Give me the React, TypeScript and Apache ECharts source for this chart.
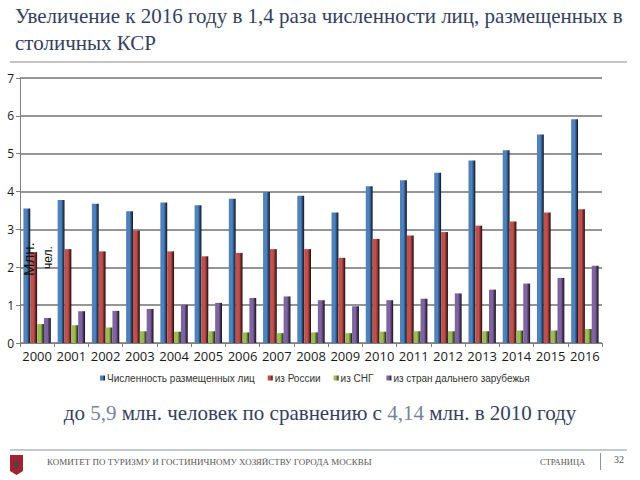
import React, { useEffect, useRef } from "react";
import * as echarts from "echarts";

const years = ["2000","2001","2002","2003","2004","2005","2006","2007","2008","2009","2010","2011","2012","2013","2014","2015","2016"];
const totalGuests = [3.55,3.78,3.68,3.48,3.71,3.64,3.81,3.99,3.89,3.45,4.14,4.30,4.50,4.82,5.09,5.51,5.91];
const fromRussia = [2.40,2.48,2.42,2.97,2.42,2.29,2.38,2.48,2.48,2.25,2.75,2.84,2.93,3.10,3.21,3.45,3.53];
const fromCIS = [0.50,0.47,0.41,0.31,0.30,0.31,0.28,0.26,0.28,0.26,0.30,0.31,0.31,0.31,0.33,0.33,0.37];
const fromFarAbroad = [0.66,0.84,0.85,0.90,1.01,1.06,1.19,1.23,1.13,0.97,1.13,1.17,1.31,1.41,1.57,1.72,2.04];
const seriesNames = ["Численность размещенных лиц","из России","из СНГ","из стран дальнего зарубежья"];
const seriesColors = ["#4F81BD","#C0504D","#9BBB59","#8064A2"];

function barColor(c: string) {
  return new echarts.graphic.LinearGradient(0, 0, 1, 0, [
    { offset: 0, color: c },
    { offset: 0.5, color: c },
    { offset: 1, color: echarts.color.modifyHSL(c, undefined, undefined, 0.08) as string },
  ]);
}

export default function App() {
  const ref = useRef<HTMLDivElement>(null);
  useEffect(() => {
    if (!ref.current) return;
    const chart = echarts.init(ref.current, undefined, { renderer: "svg" });
    const dataSets = [totalGuests, fromRussia, fromCIS, fromFarAbroad];
    const serif = "'Liberation Serif', 'Times New Roman', serif";
    const titleColor = "#34405E";
    chart.setOption({
      animation: false,
      backgroundColor: "#ffffff",
      grid: { left: 20, right: 38, top: 78, bottom: 137 },
      legend: {
        bottom: 92,
        left: 95,
        itemWidth: 5,
        itemHeight: 5,
        itemGap: 13,
        icon: "rect",
        textStyle: { fontSize: 10, color: "#333", fontFamily: "'Liberation Sans', Arial, sans-serif", padding: [0, 0, 0, -3] },
        data: seriesNames,
      },
      xAxis: {
        type: "category",
        data: years,
        axisLine: { lineStyle: { color: "#808080", width: 1 } },
        axisTick: { show: true, alignWithLabel: false, length: 4, lineStyle: { color: "#808080" } },
        axisLabel: { fontSize: 13, color: "#1a1a1a", fontFamily: "'Open Sans', sans-serif", fontWeight: 500, margin: 6, interval: 0 },
      },
      yAxis: {
        type: "value",
        min: 0,
        max: 7,
        interval: 1,
        axisLine: { show: true, lineStyle: { color: "#808080", width: 1 } },
        axisTick: { show: true, length: 4, lineStyle: { color: "#808080" } },
        axisLabel: { fontSize: 12, color: "#1a1a1a", fontFamily: "'Open Sans', sans-serif", fontWeight: 500, margin: 6 },
        splitLine: { lineStyle: { color: "#959595", width: 1.8 } },
      },
      series: dataSets.map((d, i) => ({
        name: seriesNames[i],
        type: "bar",
        data: d,
        barGap: "0%",
        barCategoryGap: "20%",
        itemStyle: { color: barColor(seriesColors[i]) },
      })),
      graphic: [
        { type: "text", left: 15, top: 5, style: { text: "Увеличение к 2016 году в 1,4 раза численности лиц, размещенных в", font: `21px ${serif}`, fill: titleColor } },
        { type: "text", left: 15, top: 32, style: { text: "столичных КСР", font: `21px ${serif}`, fill: titleColor } },
        { type: "rect", shape: { x: 10, y: 61, width: 617, height: 2 }, style: { fill: "#C4C4C4" } },
        { type: "text", z: 100, x: 21, y: 276, rotation: Math.PI / 2, style: { text: "Млн.", font: `15px 'Liberation Sans', Arial, sans-serif`, fill: "#111", verticalAlign: "top" } },
        { type: "text", z: 100, x: 42, y: 269, rotation: Math.PI / 2, style: { text: "чел.", font: `12px 'Liberation Sans', Arial, sans-serif`, fill: "#111", verticalAlign: "top" } },
        {
          type: "text", left: "center", top: 402,
          style: {
            rich: {
              a: { font: `21px ${serif}`, fill: titleColor },
              b: { font: `21px ${serif}`, fill: "#76839C" },
            },
            text: "{a|до }{b|5,9}{a| млн. человек по сравнению с }{b|4,14}{a| млн. в 2010 году}",
          },
        },
        { type: "rect", shape: { x: 10, y: 449, width: 617, height: 2 }, style: { fill: "#C4C8D0" } },
        { type: "polygon", shape: { points: [[10, 455], [23, 455], [23, 471], [16.5, 475], [10, 471]] }, style: { fill: "#A3222E" } },
        { type: "rect", shape: { x: 14, y: 460, width: 5, height: 9 }, style: { fill: "#5d3c44" } },
        { type: "text", left: 47, top: 457, style: { text: "КОМИТЕТ ПО ТУРИЗМУ И ГОСТИНИЧНОМУ ХОЗЯЙСТВУ ГОРОДА МОСКВЫ", font: `9px ${serif}`, fill: "#555" } },
        { type: "text", left: 540, top: 457, style: { text: "СТРАНИЦА", font: `8.5px ${serif}`, fill: "#555" } },
        { type: "rect", shape: { x: 600, y: 453, width: 1, height: 17 }, style: { fill: "#8A93A6" } },
        { type: "text", left: 614, top: 454, style: { text: "32", font: `10px ${serif}`, fill: "#555" } },
      ],
    });
    return () => chart.dispose();
  }, []);
  return <div ref={ref} style={{ position: "fixed", left: 0, top: 0, width: 640, height: 480 }} />;
}
